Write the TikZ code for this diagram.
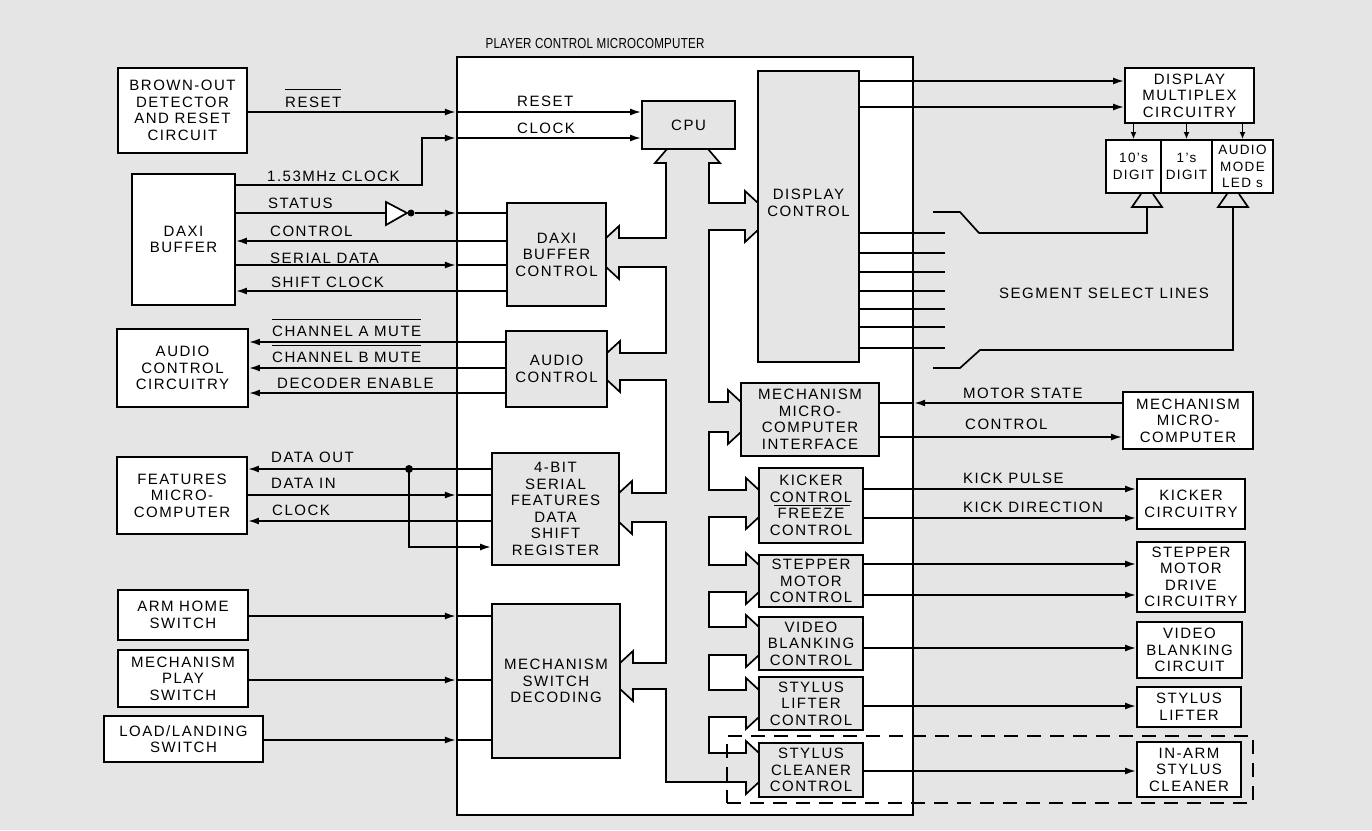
\documentclass[tikz,border=0pt]{standalone}
\usepackage{fontspec}
\setmainfont{Liberation Sans}[LetterSpace=10]
\newfontfamily\titlefont{Liberation Sans}[LetterSpace=2]
\usetikzlibrary{arrows.meta}
\definecolor{bgc}{gray}{0.9}
\newcommand\fs{\fontsize{15}{16.5}\selectfont}
\newcommand\fsd{\fontsize{13.5}{16.5}\selectfont}
\newcommand\fst{\titlefont\fontsize{14.5}{16}\selectfont}
\tikzset{
 ebox/.style={draw, line width=1.9pt, fill=white, align=center, inner sep=0pt, font=\fs},
 ibox/.style={draw, line width=1.9pt, fill=bgc, align=center, inner sep=0pt, font=\fs},
 lbl/.style={anchor=west, inner sep=0pt, font=\fs},
 conn/.style={line width=1.7pt},
 arr/.style={conn, -{Latex[length=11pt,width=7pt]}},
 arrs/.style={conn, -{Latex[length=7pt,width=6pt]}},
 ovl/.style={line width=1.3pt},
}
\begin{document}
\begin{tikzpicture}[x=1pt,y=-1pt]
\useasboundingbox (0,0) rectangle (1372,830);
\fill[bgc] (0,0) rectangle (1372,830);

% main box
\node[draw, line width=2.3pt, fill=white, minimum width=456pt, minimum height=758pt, inner sep=0pt] (main) at (685,436) {};
\node[font=\fst, inner sep=0pt] (title) at (595,44) {\scalebox{0.8}[1]{PLAYER CONTROL MICROCOMPUTER}};

% bus
\draw[line width=1.7pt, fill=bgc, line join=miter]
 (667,149) -- (708,149) -- (720,163) -- (709,163)
 -- (709,203) -- (745,203) -- (745,191) -- (758,203) -- (758,230) -- (745,242) -- (745,230) -- (709,230)
 -- (709,402) -- (728,402) -- (728,390) -- (741,402) -- (741,432) -- (728,444) -- (728,432) -- (709,432)
 -- (709,490) -- (746,490) -- (746,478) -- (759,490) -- (759,517) -- (746,529) -- (746,517) -- (709,517)
 -- (709,565) -- (746,565) -- (746,553) -- (759,565) -- (759,592) -- (746,604) -- (746,592) -- (709,592)
 -- (709,627) -- (746,627) -- (746,615) -- (759,627) -- (759,655) -- (746,667) -- (746,655) -- (709,655)
 -- (709,690) -- (746,690) -- (746,678) -- (759,690) -- (759,717) -- (746,729) -- (746,717) -- (709,717)
 -- (709,753) -- (746,753) -- (746,741) -- (759,753) -- (759,782) -- (746,794) -- (746,782) -- (666,782)
 -- (666,689) -- (633,689) -- (633,701) -- (620,689) -- (620,663) -- (633,651) -- (633,663) -- (666,663)
 -- (666,522) -- (632,522) -- (632,534) -- (619,522) -- (619,493) -- (632,481) -- (632,493) -- (666,493)
 -- (666,380) -- (620,380) -- (620,392) -- (607,380) -- (607,353) -- (620,341) -- (620,353) -- (666,353)
 -- (666,267) -- (619,267) -- (619,279) -- (606,267) -- (606,238) -- (619,226) -- (619,238) -- (666,238)
 -- (666,163) -- (655,163) -- cycle;

% internal blocks
\node[ibox, minimum width=93pt, minimum height=48pt] (cpu) at (688.5,125) {CPU};
\node[ibox, minimum width=101pt, minimum height=291pt] (dispc) at (808.5,216.5) {};
\node[font=\fs, align=center, inner sep=0pt] (dispct) at (808.5,203) {DISPLAY\\CONTROL};
\node[ibox, minimum width=99pt, minimum height=103pt] (daxic) at (556.5,254.5) {DAXI\\BUFFER\\CONTROL};
\node[ibox, minimum width=101pt, minimum height=76pt] (audctl) at (556.5,369) {AUDIO\\CONTROL};
\node[ibox, minimum width=127pt, minimum height=112pt] (shreg) at (555.5,509) {4-BIT\\SERIAL\\FEATURES\\DATA\\SHIFT\\REGISTER};
\node[ibox, minimum width=128pt, minimum height=154pt] (mswd) at (556,681) {MECHANISM\\SWITCH\\DECODING};
\node[ibox, minimum width=138pt, minimum height=73pt] (mci) at (810,419.5) {MECHANISM\\MICRO-\\COMPUTER\\INTERFACE};
\node[ibox, minimum width=104pt, minimum height=75pt] (kick) at (811,505.5) {KICKER\\CONTROL\\FREEZE\\CONTROL};
\draw[ovl] ([xshift=-37pt]kick.center) -- ([xshift=39pt]kick.center);
\node[ibox, minimum width=104pt, minimum height=52pt] (step) at (811,581) {STEPPER\\MOTOR\\CONTROL};
\node[ibox, minimum width=104pt, minimum height=53pt] (video) at (811,643.5) {VIDEO\\BLANKING\\CONTROL};
\node[ibox, minimum width=104pt, minimum height=53pt] (lift) at (811,703.5) {STYLUS\\LIFTER\\CONTROL};
\node[ibox, minimum width=104pt, minimum height=54pt] (clean) at (811,770) {STYLUS\\CLEANER\\CONTROL};

% left external blocks
\node[ebox, minimum width=129pt, minimum height=85pt] (brown) at (182.5,110.5) {BROWN-OUT\\DETECTOR\\AND RESET\\CIRCUIT};
\node[ebox, minimum width=103pt, minimum height=131pt] (daxi) at (183.5,239.5) {DAXI\\BUFFER};
\node[ebox, minimum width=131pt, minimum height=78pt] (audioc) at (182.5,368) {AUDIO\\CONTROL\\CIRCUITRY};
\node[ebox, minimum width=130pt, minimum height=77pt] (feat) at (182,495.5) {FEATURES\\MICRO-\\COMPUTER};
\node[ebox, minimum width=130pt, minimum height=50pt] (arm) at (183,615) {ARM HOME\\SWITCH};
\node[ebox, minimum width=130pt, minimum height=57pt] (mplay) at (183,678.5) {MECHANISM\\PLAY\\SWITCH};
\node[ebox, minimum width=159pt, minimum height=46pt] (load) at (183.5,739) {LOAD/LANDING\\SWITCH};

% right external blocks
\node[ebox, minimum width=129pt, minimum height=55pt] (dmux) at (1189.5,95.5) {DISPLAY\\MULTIPLEX\\CIRCUITRY};
\node[ebox, font=\fsd, minimum width=55pt, minimum height=53pt] (d10) at (1133.5,166.5) {10's\\DIGIT};
\node[ebox, font=\fsd, minimum width=51pt, minimum height=53pt] (d1) at (1186.5,166.5) {1's\\DIGIT};
\node[ebox, font=\fsd, minimum width=61pt, minimum height=53pt] (daud) at (1242.5,166.5) {AUDIO\\MODE\\LED s};
\node[ebox, minimum width=130pt, minimum height=57pt] (mmc) at (1188,420.5) {MECHANISM\\MICRO-\\COMPUTER};
\node[ebox, minimum width=108pt, minimum height=50pt] (kcirc) at (1191,504) {KICKER\\CIRCUITRY};
\node[ebox, minimum width=108pt, minimum height=70pt] (smdc) at (1191,577) {STEPPER\\MOTOR\\DRIVE\\CIRCUITRY};
\node[ebox, minimum width=105pt, minimum height=56pt] (vbc) at (1189.5,650) {VIDEO\\BLANKING\\CIRCUIT};
\node[ebox, minimum width=104pt, minimum height=40pt] (slift) at (1189,707) {STYLUS\\LIFTER};
\node[ebox, minimum width=104pt, minimum height=55pt] (iasc) at (1189,769.5) {IN-ARM\\STYLUS\\CLEANER};

% ---- left connectors
\draw[arr] (brown.east |- 0,112) -- (main.west |- 0,112);
\draw[arr] (main.west |- 0,112) -- (cpu.west |- 0,112);
\draw[arr] (daxi.east |- 0,185) -- (422,185) -- (422,138) -- (main.west |- 0,138);
\draw[arr] (main.west |- 0,138) -- (cpu.west |- 0,138);
\node[lbl] (lrst) at (285,102) {RESET};
\draw[ovl] ([yshift=7pt]lrst.north west) -- ([yshift=7pt]lrst.north east);
\node[lbl] (lrst2) at (517,101) {RESET};
\node[lbl] (lclk2) at (517,128) {CLOCK};
\node[lbl] (lclk) at (267,176) {1.53MHz CLOCK};

% status with inverter
\draw[line width=1.7pt, fill=white, line join=miter] (386,202) -- (407,213) -- (386,225) -- cycle;
\coordinate (invin) at (386,213);
\node[circle, fill=black, inner sep=0pt, minimum size=7pt] (bub) at (411,213) {};
\draw[conn] (daxi.east |- 0,213) -- (invin);
\draw[arr] (bub.east) -- (main.west |- 0,213);
\draw[conn] (main.west |- 0,213) -- (daxic.west |- 0,213);
\node[lbl] at (268,203) {STATUS};
\draw[arr] (daxic.west |- 0,241) -- (daxi.east |- 0,241);
\node[lbl] at (270,231) {CONTROL};
\draw[arr] (daxi.east |- 0,265) -- (main.west |- 0,265);
\draw[conn] (main.west |- 0,265) -- (daxic.west |- 0,265);
\node[lbl] at (270,258) {SERIAL DATA};
\draw[arr] (daxic.west |- 0,291) -- (daxi.east |- 0,291);
\node[lbl] at (271,282) {SHIFT CLOCK};

% audio
\draw[arr] (audctl.west |- 0,342) -- (audioc.east |- 0,342);
\draw[arr] (audctl.west |- 0,368) -- (audioc.east |- 0,368);
\draw[arr] (audctl.west |- 0,393) -- (audioc.east |- 0,393);
\node[lbl] (lcha) at (272,331) {CHANNEL A MUTE};
\draw[ovl] ([yshift=6pt]lcha.north west) -- ([yshift=6pt]lcha.north east);
\node[lbl] (lchb) at (272,357) {CHANNEL B MUTE};
\draw[ovl] ([yshift=6pt]lchb.north west) -- ([yshift=6pt]lchb.north east);
\node[lbl] at (277,383) {DECODER ENABLE};

% features
\draw[arr] (shreg.west |- 0,469) -- (feat.east |- 0,469);
\node[circle, fill=black, inner sep=0pt, minimum size=8pt] (jn) at (409,469) {};
\draw[arr] (jn.center) -- (409,547) -- (shreg.west |- 0,547);
\draw[arr] (feat.east |- 0,495) -- (main.west |- 0,495);
\draw[conn] (main.west |- 0,495) -- (shreg.west |- 0,495);
\draw[arr] (shreg.west |- 0,521) -- (feat.east |- 0,521);
\node[lbl] at (271,457) {DATA OUT};
\node[lbl] at (271,483) {DATA IN};
\node[lbl] at (272,510) {CLOCK};

% switches
\draw[arr] (arm.east |- 0,616) -- (main.west |- 0,616);
\draw[conn] (main.west |- 0,616) -- (mswd.west |- 0,616);
\draw[arr] (mplay.east |- 0,680) -- (main.west |- 0,680);
\draw[conn] (main.west |- 0,680) -- (mswd.west |- 0,680);
\draw[arr] (load.east |- 0,740) -- (main.west |- 0,740);
\draw[conn] (main.west |- 0,740) -- (mswd.west |- 0,740);

% ---- right connectors
\draw[arr] (dispc.east |- 0,81) -- (dmux.west |- 0,81);
\draw[arr] (dispc.east |- 0,107) -- (dmux.west |- 0,107);
\draw[arrs] (d10.north |- dmux.south) -- (d10.north);
\draw[arrs] (d1.north |- dmux.south) -- (d1.north);
\draw[arrs] (daud.north |- dmux.south) -- (daud.north);

\foreach \yy in {233,253,272,291,309,327,348} {
  \draw[conn] (dispc.east |- 0,\yy) -- (945,\yy);
}
\draw[conn, line join=miter] (933,212) -- (960,212) -- (979,233) -- (1147,233) -- (1147,207) -- (1132,207) -- (1141,194);
\draw[conn, line join=miter] (1153,194) -- (1162,207) -- (1147,207);
\draw[conn, line join=miter] (933,368) -- (960,368) -- (980,350) -- (1233,350) -- (1233,207) -- (1218,207) -- (1227,194);
\draw[conn, line join=miter] (1239,194) -- (1248,207) -- (1233,207);
\node[font=\fs, inner sep=0pt] (seg) at (1104,293) {SEGMENT SELECT LINES};

\draw[arr] (mmc.west |- 0,403) -- (main.east |- 0,403);
\draw[conn] (main.east |- 0,403) -- (mci.east |- 0,403);
\draw[arr] (mci.east |- 0,437) -- (mmc.west |- 0,437);
\node[lbl] at (963,393) {MOTOR STATE};
\node[lbl] at (965,424) {CONTROL};

\draw[arr] (kick.east |- 0,489) -- (kcirc.west |- 0,489);
\draw[arr] (kick.east |- 0,518) -- (kcirc.west |- 0,518);
\node[lbl] at (963,478) {KICK PULSE};
\node[lbl] at (963,507) {KICK DIRECTION};

\draw[arr] (step.east |- 0,564) -- (smdc.west |- 0,564);
\draw[arr] (step.east |- 0,595) -- (smdc.west |- 0,595);
\draw[arr] (video.east |- 0,648) -- (vbc.west |- 0,648);
\draw[arr] (lift.east |- 0,706) -- (slift.west |- 0,706);
\draw[arr] (clean.east |- 0,771) -- (iasc.west |- 0,771);

% dashed group
\node[draw, dash pattern=on 14pt off 9pt, line width=1.5pt, minimum width=526pt, minimum height=67pt, inner sep=0pt] (grp) at (990,769.5) {};
\end{tikzpicture}
\end{document}
